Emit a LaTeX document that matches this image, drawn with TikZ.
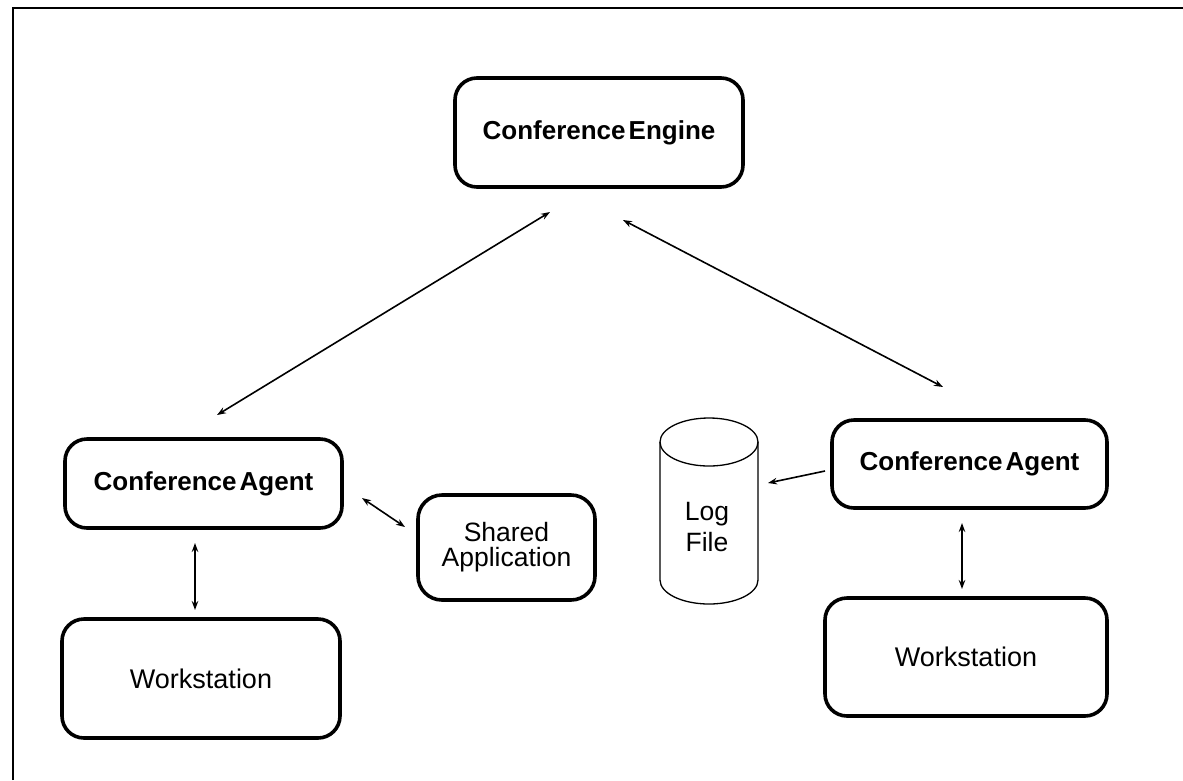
\documentclass[tikz,border=0pt]{standalone}
\usepackage{fontspec}
\setmainfont{Liberation Sans}
\usetikzlibrary{arrows.meta}
\begin{document}
\begin{tikzpicture}[x=1pt,y=-1pt,
  box/.style={draw, line width=3.6pt, rounded corners=22pt, inner sep=0pt,
    align=center, font=\fontsize{27}{28}\selectfont},
  boldbox/.style={box, font=\fontsize{26}{27}\selectfont\bfseries},
  link/.style={line width=1.6pt, {Stealth[length=9pt,width=6.5pt]}-{Stealth[length=9pt,width=6.5pt]}},
  oneway/.style={line width=1.6pt, -{Stealth[length=9pt,width=6.5pt]}},
  drum/.style={line width=1.3pt}]
\useasboundingbox (0,0) rectangle (1183,780);

% frame, open at the right and at the bottom
\draw[line width=2.5pt] (13,780) -- (13,8) -- (1183,8);

% boxes
\node[boldbox, minimum width=288pt, minimum height=109pt] (engine) at (599,132.5)
  {Conference\hspace{0.12em}Engine};
\node[boldbox, minimum width=277pt, minimum height=89pt] (agentL) at (203.5,483.5)
  {Conference\hspace{0.12em}Agent};
\node[boldbox, minimum width=275pt, minimum height=88pt] (agentR) at (969.5,464)
  {Conference\hspace{0.12em}Agent};
\node[box, minimum width=278pt, minimum height=119pt] (wsL) at (201,678.5) {Workstation};
\node[box, minimum width=282pt, minimum height=118pt] (wsR) at (966,657) {Workstation};
\node[box, rounded corners=24pt, minimum width=177pt, minimum height=105pt,
  font=\fontsize{26.5}{25}\selectfont] (shared) at (506.5,547.5) {Shared\\Application};

% log file drum
\node[minimum width=98pt, minimum height=185pt, inner sep=0pt] (log) at (709,510.5) {};
\draw[drum] (709,442) ellipse [x radius=49, y radius=24];
\draw[drum] (660,442) -- (660,580) arc[start angle=180, end angle=0, x radius=49, y radius=24]
  -- (758,442);
\node[font=\fontsize{26.5}{31}\selectfont, align=center] (logtext) at (707,527) {Log\\File};

% free ends of the connectors
\coordinate (eL) at (550,212);
\coordinate (aL) at (217,415);
\coordinate (eR) at (623,220);
\coordinate (aR) at (943,387);
\coordinate (sA) at (362,498);
\coordinate (sB) at (405,527);
\coordinate (vL1) at (195,543);
\coordinate (vL2) at (195,610);
\coordinate (vR1) at (962,523);
\coordinate (vR2) at (962,589);
\coordinate (lA) at (825,471);
\coordinate (lB) at (768,483);

% connectors
\draw[link] (aL) -- (eL);
\draw[link] (eR) -- (aR);
\draw[link] (sA) -- (sB);
\draw[link] (vL1) -- (vL2);
\draw[link] (vR1) -- (vR2);
\draw[oneway] (lA) -- (lB);
\end{tikzpicture}
\end{document}
